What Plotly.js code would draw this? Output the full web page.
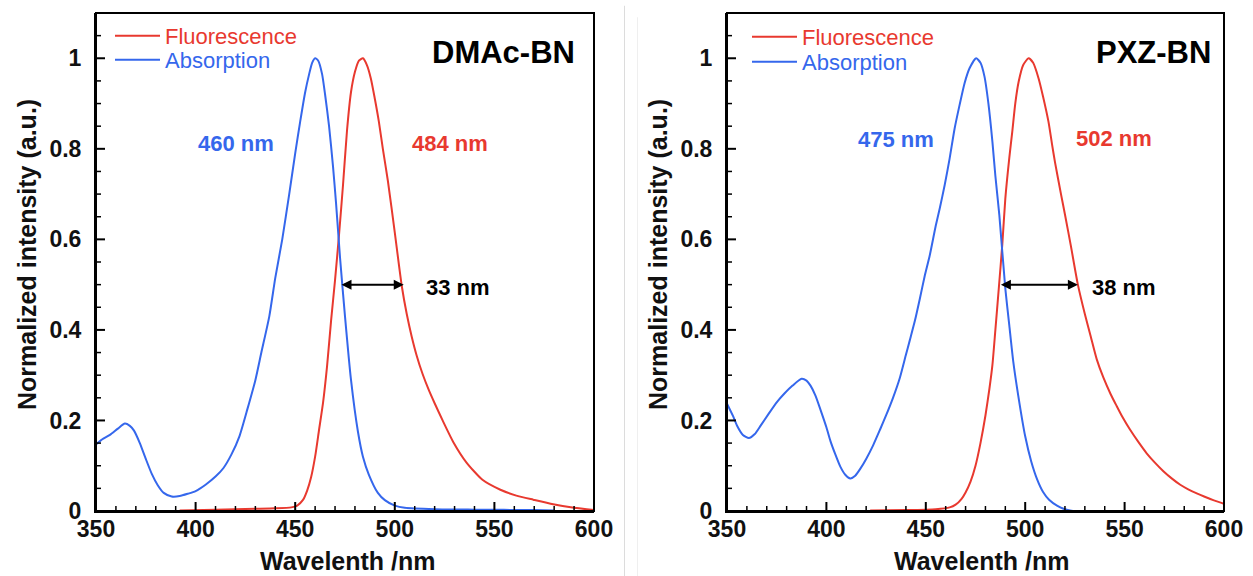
<!DOCTYPE html>
<html>
<head>
<meta charset="utf-8">
<script src="https://cdn.plot.ly/plotly-3.0.1.min.js"></script>
<style>html,body{margin:0;padding:0;background:#fff;}#chart{width:1253px;height:576px;}</style>
</head>
<body>
<div id="chart"></div>
<script>
// ---------- DMAc-BN (left panel) ----------
const dmacAbsWl = [350,353,357,361,364.5,367,369,372,375,378,381,384,388,392,396,400,405,410,414,418,422,426,430,433,437,440,443.5,447,450,452.5,455,457,458.5,460,461.5,463.5,465,467,469,470.5,472.5,475,478,481.5,484,487,491.5,495,500,505,520,540,570,580];
const dmacAbs   = [0.147,0.158,0.168,0.182,0.193,0.188,0.178,0.150,0.115,0.082,0.057,0.040,0.032,0.033,0.038,0.044,0.058,0.076,0.095,0.125,0.165,0.225,0.289,0.350,0.430,0.515,0.600,0.700,0.790,0.860,0.925,0.965,0.990,1.0,0.995,0.965,0.920,0.850,0.760,0.680,0.560,0.430,0.290,0.175,0.120,0.080,0.040,0.024,0.012,0.007,0.004,0.003,0.002,0.001];
const dmacFlWl  = [392,410,420,430,440,448,451,454,456,458,460,462,464,466,468,470,472,474,476,478,480,482,484,486,488,490,492,494,496.5,500,503.5,506,508.5,511,514,517,520,524,529.4,536,544,553,561,569.5,579.5,590,600];
const dmacFl    = [0.001,0.003,0.004,0.005,0.006,0.008,0.012,0.025,0.045,0.075,0.120,0.180,0.240,0.320,0.420,0.510,0.610,0.720,0.840,0.925,0.970,0.995,1.0,0.985,0.955,0.910,0.860,0.800,0.730,0.615,0.497,0.435,0.385,0.343,0.302,0.268,0.238,0.200,0.152,0.107,0.069,0.047,0.034,0.025,0.015,0.007,0.002];

// ---------- PXZ-BN (right panel) ----------
const pxzAbsWl = [350,353,355,358,361,364,367,371,375,379,383,387.5,390,392,394.5,397,400,402,404.5,407,409.5,412,414.5,417,420,423.5,427,430,433.5,437,440,442,444.5,447,449.5,452,455,457,459.5,462,464.5,467,469.5,472,475.3,477.5,479.5,481.5,483.5,485,487,490,492,494,496.5,500,503,506,509,512,516,520,524];
const pxzAbs   = [0.237,0.210,0.189,0.168,0.161,0.170,0.189,0.215,0.240,0.260,0.277,0.292,0.288,0.277,0.255,0.224,0.185,0.155,0.125,0.098,0.080,0.072,0.078,0.093,0.115,0.145,0.180,0.211,0.250,0.295,0.345,0.378,0.420,0.469,0.520,0.565,0.630,0.668,0.720,0.779,0.845,0.897,0.945,0.978,1.0,0.990,0.960,0.900,0.816,0.740,0.653,0.491,0.410,0.330,0.255,0.165,0.110,0.070,0.042,0.025,0.012,0.004,0.0];
const pxzFlWl  = [422,440,455,462,465,468,470,472.5,475,477.5,480,482,483.5,485,486.7,488.5,490,492,493.5,495,496.7,499,501.7,504,506.7,509,511.7,513.5,515,518,520,523,526.5,530,533,536,539.3,543,546,549,552.7,557,561,565,569.5,574,578,582,586.3,590,594.6,600];
const pxzFl    = [0.001,0.002,0.004,0.008,0.014,0.027,0.041,0.065,0.100,0.150,0.211,0.270,0.322,0.400,0.491,0.590,0.690,0.780,0.838,0.900,0.948,0.985,1.0,0.990,0.956,0.915,0.860,0.810,0.770,0.700,0.655,0.585,0.500,0.435,0.385,0.335,0.295,0.258,0.232,0.207,0.180,0.152,0.128,0.108,0.088,0.071,0.058,0.048,0.039,0.032,0.024,0.016];

// ---------- labels & ticks ----------
const panelNames = ['DMAc-BN','PXZ-BN'];
const seriesNames = ['Fluorescence','Absorption'];
const peakLabels = [['460 nm','484 nm'],['475 nm','502 nm']];
const peakLabelPos = [[[420.5,0.812],[527.7,0.812]],[[435,0.82],[544.7,0.822]]];
const fwhmLabels = ['33 nm','38 nm'];
const fwhmArrow = [[472.5,504.5],[487,526.5]];
const fwhmLabelX = [531.5,549.5];
const xTicks = [350,400,450,500,550,600];
const xMinorTicks = [360,370,380,390,410,420,430,440,460,470,480,490,510,520,530,540,560,570,580,590];
const yTicks = [0,0.2,0.4,0.6,0.8,1];
const yTickText = ['0','0.2','0.4','0.6','0.8','1'];
const yMinorTicks = [0.05,0.1,0.15,0.25,0.3,0.35,0.45,0.5,0.55,0.65,0.7,0.75,0.85,0.9,0.95,1.05];
const xTitle = 'Wavelenth /nm';
const yTitle = 'Normalized intensity (a.u.)';

const RED = '#e8392f';
const BLUE = '#3567ec';
const FONT = 'Liberation Sans, Arial, Helvetica, sans-serif';
const W = 1253, H = 576;
const X_RANGE = [350,600], Y_RANGE = [0,1.1];

function coloredName(name, color){ return '<span style="color:'+color+'">'+name+'</span>'; }

const yDom = [1-511/H, 1-13/H];
const xDoms = [[96/W, 594/W], [727/W, 1224/W]];
const MAJ = 9, MIN = 5;

const traces = [
  {x: dmacFlWl, y: dmacFl, xaxis:'x', yaxis:'y', name: coloredName(seriesNames[0], RED), legend:'legend',
   mode:'lines', line:{color:RED, width:2, shape:'spline', smoothing:0.6}},
  {x: dmacAbsWl, y: dmacAbs, xaxis:'x', yaxis:'y', name: coloredName(seriesNames[1], BLUE), legend:'legend2',
   mode:'lines', line:{color:BLUE, width:2, shape:'spline', smoothing:0.6}},
  {x: pxzFlWl, y: pxzFl, xaxis:'x2', yaxis:'y2', name: coloredName(seriesNames[0], RED), legend:'legend3',
   mode:'lines', line:{color:RED, width:2, shape:'spline', smoothing:0.6}},
  {x: pxzAbsWl, y: pxzAbs, xaxis:'x2', yaxis:'y2', name: coloredName(seriesNames[1], BLUE), legend:'legend4',
   mode:'lines', line:{color:BLUE, width:2, shape:'spline', smoothing:0.6}}
];

// inward tick marks as line segments on each subplot (lengths converted from px through the axis spans)
function tickTrace(p, xv, yv, len, width){
  const xr = ['x','x2'][p], yr = ['y','y2'][p];
  const xPerPx = (X_RANGE[1]-X_RANGE[0]) / ((xDoms[p][1]-xDoms[p][0])*W);
  const yPerPx = (Y_RANGE[1]-Y_RANGE[0]) / ((yDom[1]-yDom[0])*H);
  const tx = [], ty = [];
  xv.forEach(function(v){ tx.push(v, v, null); ty.push(Y_RANGE[0], Y_RANGE[0]+len*yPerPx, null); });
  yv.forEach(function(v){ tx.push(X_RANGE[0], X_RANGE[0]+len*xPerPx, null); ty.push(v, v, null); });
  return {x: tx, y: ty, xaxis: xr, yaxis: yr, mode:'lines', line:{color:'#000', width: width},
    showlegend:false, hoverinfo:'skip', connectgaps:false};
}
for (let p = 0; p < 2; p++) {
  traces.push(tickTrace(p, xTicks, yTicks, MAJ, 2));
  traces.push(tickTrace(p, xMinorTicks, yMinorTicks, MIN, 1.5));
}

function xAxis(dom, anchor){
  return {domain: dom, anchor: anchor, range: X_RANGE, tickmode:'array', tickvals: xTicks, ticks:'',
    showline:true, linewidth:2, linecolor:'#000', showgrid:false, zeroline:false,
    ticklabelstandoff: -4,
    tickfont:{family:FONT, size:23, color:'#111', weight:'bold'}};
}
function yAxis(anchor){
  return {domain: yDom, anchor: anchor, range: Y_RANGE, tickmode:'array', tickvals: yTicks, ticktext: yTickText, ticks:'',
    showline:true, linewidth:2, linecolor:'#000', showgrid:false, zeroline:false,
    ticklabelstandoff: 8,
    tickfont:{family:FONT, size:23, color:'#111', weight:'bold'}};
}

function legendAt(xpx, ypx){
  return {x: xpx/W, y: 1-ypx/H, xanchor:'left', yanchor:'middle', bgcolor:'rgba(0,0,0,0)', borderwidth:0,
    itemwidth:45, font:{family:FONT, size:22}};
}

const annotations = [];
const shapes = [];
const xrefs = ['x','x2'], yrefs = ['y','y2'];
for (let p = 0; p < 2; p++) {
  const xr = xrefs[p], yr = yrefs[p];
  annotations.push({xref:xr, yref:yr, x: peakLabelPos[p][0][0], y: peakLabelPos[p][0][1], text: peakLabels[p][0],
    showarrow:false, font:{family:FONT, size:22, color:BLUE, weight:'bold'}});
  annotations.push({xref:xr, yref:yr, x: peakLabelPos[p][1][0], y: peakLabelPos[p][1][1], text: peakLabels[p][1],
    showarrow:false, font:{family:FONT, size:22, color:RED, weight:'bold'}});
  annotations.push({xref:xr, yref:yr, axref:xr, ayref:yr, x: fwhmArrow[p][1], y:0.5, ax: fwhmArrow[p][0], ay:0.5,
    text:'', showarrow:true, arrowside:'end+start', arrowhead:2, arrowsize:1, arrowwidth:2, arrowcolor:'#000', standoff:0, startstandoff:0});
  annotations.push({xref:xr, yref:yr, x: fwhmLabelX[p], y:0.493, text: fwhmLabels[p], xanchor:'center',
    showarrow:false, font:{family:FONT, size:22, color:'#000', weight:'bold'}});
  // frame
  shapes.push({type:'rect', xref: xr+' domain', yref: yr+' domain', x0:0, x1:1, y0:0, y1:1, line:{color:'#000', width:2}, fillcolor:'rgba(0,0,0,0)', layer:'above'});
}
annotations.push({xref:'paper', yref:'paper', x:577/W, y:1-53/H, xanchor:'right', yanchor:'middle', text: panelNames[0],
  showarrow:false, font:{family:FONT, size:31, color:'#000', weight:'bold'}});
annotations.push({xref:'paper', yref:'paper', x:1213/W, y:1-53/H, xanchor:'right', yanchor:'middle', text: panelNames[1],
  showarrow:false, font:{family:FONT, size:31, color:'#000', weight:'bold'}});
[[347.5, 27],[981.5, 658]].forEach(function(pos){
  annotations.push({xref:'paper', yref:'paper', x: pos[0]/W, y: 1-561/H, xanchor:'center', yanchor:'middle', text: xTitle,
    showarrow:false, font:{family:FONT, size:25, color:'#111', weight:'bold'}});
  annotations.push({xref:'paper', yref:'paper', x: pos[1]/W, y: 1-255/H, xanchor:'center', yanchor:'middle', text: yTitle, textangle:-90,
    showarrow:false, font:{family:FONT, size:25, color:'#111', weight:'bold'}});
});
shapes.push({type:'line', xref:'paper', yref:'paper', x0:624.5/W, x1:624.5/W, y0:0, y1:0.99, line:{color:'#dcdcdc', width:1}});
shapes.push({type:'line', xref:'paper', yref:'paper', x0:637.5/W, x1:637.5/W, y0:0, y1:0.97, line:{color:'#efefef', width:1}});

const layout = {
  width: W, height: H, margin:{l:0, r:0, t:0, b:0}, paper_bgcolor:'#fff', plot_bgcolor:'#fff',
  font:{family:FONT},
  xaxis: xAxis(xDoms[0], 'y'),
  yaxis: yAxis('x'),
  xaxis2: xAxis(xDoms[1], 'y2'),
  yaxis2: yAxis('x2'),
  legend: legendAt(110, 36),
  legend2: legendAt(110, 60),
  legend3: legendAt(747, 37),
  legend4: legendAt(747, 62),
  annotations: annotations,
  shapes: shapes,
  showlegend: true
};

Plotly.newPlot('chart', traces, layout, {displayModeBar:false, staticPlot:true});
</script>
</body>
</html>
